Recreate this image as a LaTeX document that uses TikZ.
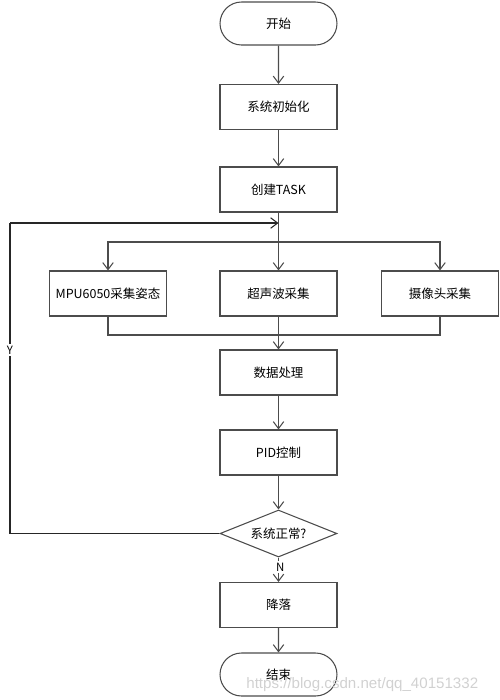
\documentclass[tikz,border=0pt]{standalone}
\usepackage{fontspec}
\setmainfont{Noto Sans CJK SC}
\newfontfamily\wmfont{Liberation Sans}
\usetikzlibrary{shapes.geometric,shapes.misc,arrows.meta}
\begin{document}
\begin{tikzpicture}[x=0.02cm,y=-0.02cm,
  font=\fontsize{7.1}{8.5}\selectfont,
  line/.style={draw=black!70, line width=0.6pt},
  arr/.style={line, -{Straight Barb[length=4pt,width=6pt]}},
  box/.style={line, rectangle, minimum width=2.34cm, minimum height=0.9cm, inner sep=0pt},
  term/.style={line, rounded rectangle, minimum width=2.34cm, minimum height=0.86cm, inner sep=0pt},
  dec/.style={line, diamond, aspect=2.5, minimum width=2.34cm, minimum height=0.94cm, inner sep=0pt},
  lab/.style={fill=white, inner sep=1pt, font=\fontsize{6.5}{7.5}\selectfont}
]
\useasboundingbox (0,0) rectangle (500,700);
\node[term] (start) at (278.5,23.5) {开始};
\node[box] (init) at (278.5,107) {系统初始化};
\node[box] (task) at (278.5,189.5) {创建TASK};
\node[box] (mpu) at (108,293.5) {MPU6050采集姿态};
\node[box] (ultra) at (278.5,293.5) {超声波采集};
\node[box] (cam) at (440,293.5) {摄像头采集};
\node[box] (data) at (278.5,372.5) {数据处理};
\node[box] (pid) at (278.5,452.5) {PID控制};
\node[dec] (ok) at (278.5,533.5) {系统正常?};
\node[box] (land) at (278.5,605) {降落};
\node[term] (stop) at (278.5,674.5) {结束};
\coordinate (loopin) at (278.5,223);
\coordinate (split) at (278.5,242);
\coordinate (merge) at (278.5,335);
\coordinate (lb) at (10,533.5);
\coordinate (lt) at (10,223);
\draw[arr] (start) -- (init);
\draw[arr] (init) -- (task);
\draw[line] (task.south) -- (split);
\draw[arr] (split) -| (mpu.north);
\draw[arr] (split) -- (ultra.north);
\draw[arr] (split) -| (cam.north);
\draw[line] (mpu.south) |- (merge);
\draw[line] (cam.south) |- (merge);
\draw[line] (ultra.south) -- (merge);
\draw[arr] (merge) -- (data.north);
\draw[arr] (data) -- (pid);
\draw[arr] (pid) -- (ok);
\draw[arr] (ok) -- node[lab, pos=0.4, xshift=1pt] {N} (land);
\draw[arr] (land) -- (stop);
\draw[line, draw=black!85] (ok.west) -- (lb) -- node[lab, pos=0.59] {Y} (lt);
\draw[arr, draw=black!85] (lt) -- (loopin);
\node[text=black!18, font=\wmfont\fontsize{8.6}{10}\selectfont, anchor=west, inner sep=0pt] (wm) at (246,685) {https://blog.csdn.net/qq\_40151332};
\end{tikzpicture}
\end{document}
